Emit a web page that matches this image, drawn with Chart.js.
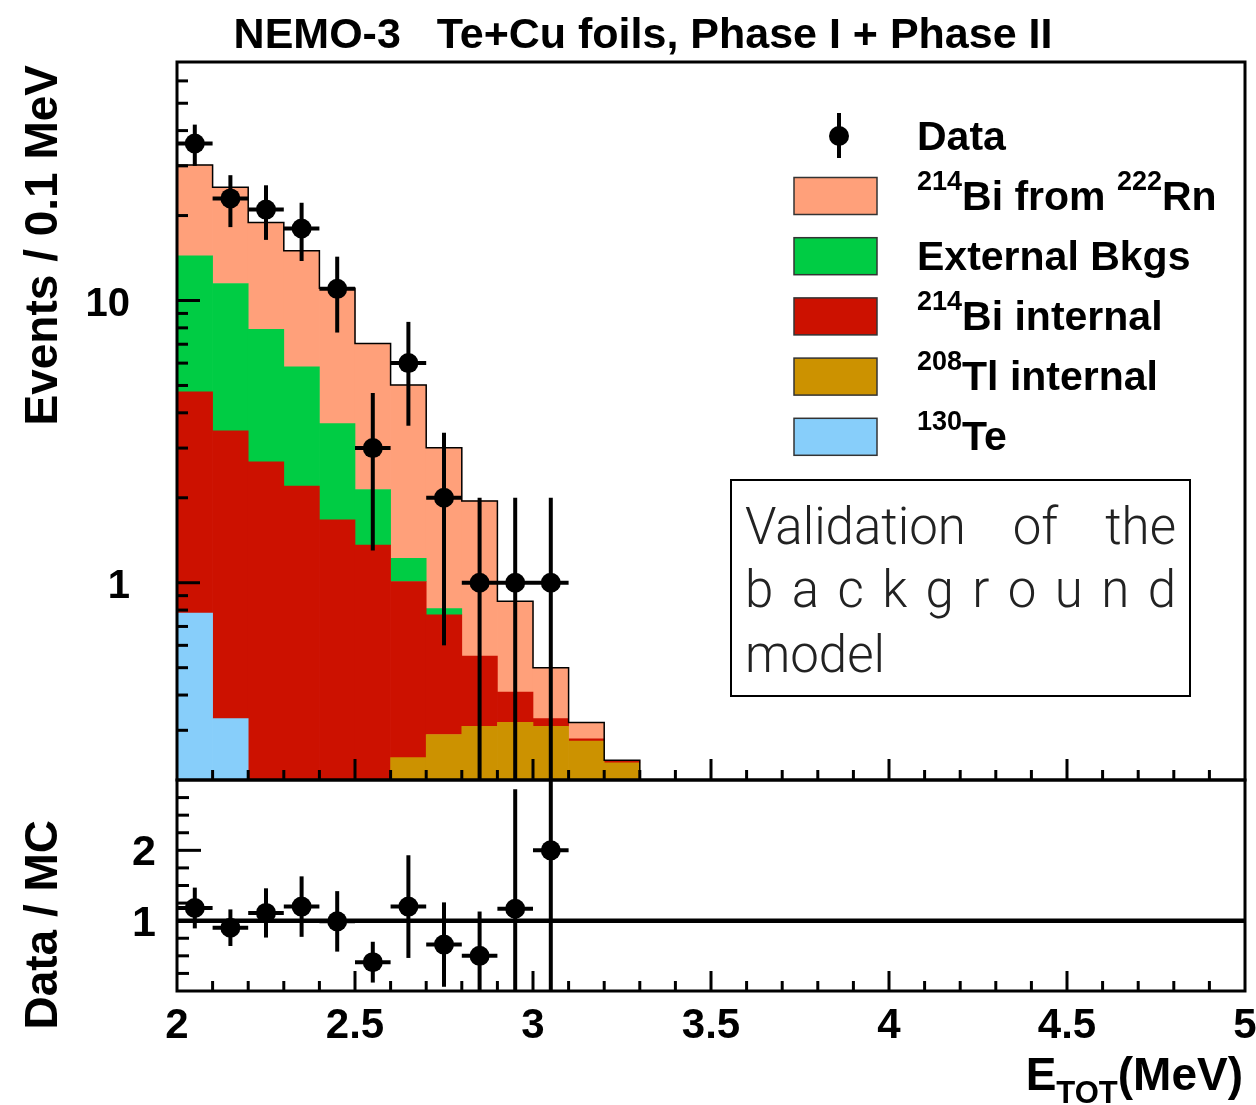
<!DOCTYPE html>
<html>
<head>
<meta charset="utf-8">
<title>NEMO-3 Te+Cu foils</title>
<script src="https://cdn.jsdelivr.net/npm/chart.js@4.4.1/dist/chart.umd.min.js"></script>
<style>
  html, body { margin: 0; padding: 0; background: #fff; overflow: hidden; }
  #wrap { position: relative; width: 1256px; height: 1105px; background: #fff; }
  canvas { position: absolute; left: 0; }
  #spectrum { top: 0; }
  #ratio { top: 700px; }
</style>
</head>
<body>
<div id="wrap">
  <canvas id="spectrum" width="1256" height="790"></canvas>
  <canvas id="ratio" width="1256" height="405"></canvas>
</div>
<script>
// ---- Histogram binning (MeV) ----
const binCenters = [2.05, 2.15, 2.25, 2.35, 2.45, 2.55, 2.65, 2.75, 2.85, 2.95, 3.05, 3.15, 3.25];
const binWidth = 0.1;

// ---- Background model, events / 0.1 MeV per component ----
const te130   = [0.78, 0.33, 0.12, 0.05, 0.02, 0.01, 0, 0, 0, 0, 0, 0, 0];
const tl208   = [0, 0, 0.01, 0.03, 0.07, 0.15, 0.24, 0.29, 0.31, 0.32, 0.31, 0.275, 0.23];
const bi214In = [3.97, 3.12, 2.55, 2.12, 1.58, 1.20, 0.77, 0.48, 0.24, 0.09, 0.02, 0.005, 0.005];
const extBkg  = [9.65, 8.04, 5.23, 3.62, 1.99, 0.78, 0.21, 0.04, 0, 0, 0, 0, 0];
const bi214Rn = [15.8, 13.7, 11.0, 9.2, 7.4, 4.9, 3.8, 2.2, 1.4, 0.45, 0.17, 0.04, 0];

// ---- Observed events ----
const dataCenters = [2.05, 2.15, 2.25, 2.35, 2.45, 2.55, 2.65, 2.75, 2.85, 2.95, 3.05];
const dataCounts  = [36, 23, 21, 18, 11, 3, 6, 2, 1, 1, 1];
const dataErrors  = [6.0, 4.8, 4.6, 4.2, 3.3, 1.7, 2.4, 1.4, 1.0, 1.0, 1.0];

// ---- Data / MC ----
const ratioValues = [1.18, 0.90, 1.11, 1.20, 0.99, 0.41, 1.20, 0.66, 0.50, 1.17, 2.00];
const ratioErrors = [0.29, 0.26, 0.35, 0.43, 0.43, 0.29, 0.73, 0.60, 0.63, 1.70, 2.00];

// ---- Axes ----
const xRange = [2, 5];
const yRange = [0.2, 70];
const ratioRange = [0, 3];
const xTickValues = [2, 2.5, 3, 3.5, 4, 4.5, 5];
const yTickValues = [1, 10];
const ratioTickValues = [1, 2];

// ---- Styling ----
const FONT = '"Liberation Sans", Arial, Helvetica, sans-serif';
const LIGHT_FONT = 'Roboto, "Liberation Sans", Arial, sans-serif';

// Stack order: bottom to top
const components = [
  { values: te130,   color: '#87cefa', label: [['130', true], ['Te', false]] },
  { values: tl208,   color: '#cc9200', label: [['208', true], ['Tl internal', false]] },
  { values: bi214In, color: '#cc1100', label: [['214', true], ['Bi internal', false]] },
  { values: extBkg,  color: '#00cc44', label: [['External Bkgs', false]] },
  { values: bi214Rn, color: '#ffa07a', label: [['214', true], ['Bi from ', false], ['222', true], ['Rn', false]] }
];

// Total model for the outline of the stack
const totals = binCenters.map((_, i) => components.reduce((s, c) => s + c.values[i], 0));
const outline = binCenters.map((c, i) => ({ x: c - binWidth / 2, y: totals[i] }));
const last = binCenters.length - 1;
outline.push({ x: binCenters[last] + binWidth / 2, y: totals[last] });
outline.push({ x: binCenters[last] + binWidth / 2, y: yRange[0] });

function seg(ctx, x1, y1, x2, y2) {
  ctx.beginPath(); ctx.moveTo(x1, y1); ctx.lineTo(x2, y2); ctx.stroke();
}

function clipTo(ctx, a) {
  ctx.beginPath(); ctx.rect(a.left, a.top, a.right - a.left, a.bottom - a.top); ctx.clip();
}

// Keep label overhang from shrinking the plotting frame
function noScalePadding(s) {
  s.paddingTop = 0; s.paddingBottom = 0; s.paddingLeft = 0; s.paddingRight = 0;
}

// Bottom-axis ticks pointing into the frame
function drawXTicks(ctx, xs, a, majorLen, minorLen) {
  for (let i = 1; i < 30; i++) {
    const v = xRange[0] + i * 0.1;
    const px = xs.getPixelForValue(v);
    const len = (i % 5 === 0) ? majorLen : minorLen;
    seg(ctx, px, a.bottom, px, a.bottom - len);
  }
}

function drawErrorBars(ctx, xs, ys, a, centers, values, errors, lowFloor) {
  ctx.save();
  clipTo(ctx, a);
  ctx.strokeStyle = '#000';
  ctx.lineWidth = 4;
  centers.forEach((c, i) => {
    const px = xs.getPixelForValue(c);
    const py = ys.getPixelForValue(values[i]);
    const hi = ys.getPixelForValue(values[i] + errors[i]);
    const lowV = values[i] - errors[i];
    const lo = lowV > lowFloor ? ys.getPixelForValue(lowV) : a.bottom + 6;
    seg(ctx, px, hi, px, lo);
    seg(ctx, xs.getPixelForValue(c - binWidth / 2), py, xs.getPixelForValue(c + binWidth / 2), py);
  });
  ctx.restore();
}

function drawSupText(ctx, parts, x, baseline, size, supSize, rise) {
  ctx.textAlign = 'left';
  ctx.textBaseline = 'alphabetic';
  for (const [txt, sup] of parts) {
    ctx.font = 'bold ' + (sup ? supSize : size) + 'px ' + FONT;
    ctx.fillText(txt, x, sup ? baseline - rise : baseline);
    x += ctx.measureText(txt).width;
  }
}

function justify(ctx, units, left, right, baseline) {
  const widths = units.map(u => ctx.measureText(u).width);
  const gap = (right - left - widths.reduce((s, w) => s + w, 0)) / (units.length - 1);
  let x = left;
  units.forEach((u, i) => { ctx.fillText(u, x, baseline); x += widths[i] + gap; });
}

const spectrumDecor = {
  id: 'spectrumDecor',
  afterDatasetsDraw(chart) {
    const { ctx, chartArea: a } = chart;
    const xs = chart.scales.x, ys = chart.scales.y;
    drawErrorBars(ctx, xs, ys, a, dataCenters, dataCounts, dataErrors, 0);

    ctx.save();
    ctx.strokeStyle = '#000';
    ctx.lineWidth = 3;
    // logarithmic y ticks
    for (const d of [0.1, 1, 10]) {
      for (let k = 1; k <= 9; k++) {
        const v = k * d;
        if (v <= yRange[0] * 1.001 || v >= yRange[1] * 0.999) continue;
        const py = ys.getPixelForValue(v);
        seg(ctx, a.left, py, a.left + (k === 1 ? 23 : 11), py);
      }
    }
    drawXTicks(ctx, xs, a, 21, 10);
    ctx.strokeRect(a.left, a.top, a.right - a.left, a.bottom - a.top);
    ctx.restore();
  },
  afterDraw(chart) {
    const { ctx } = chart;
    ctx.save();
    ctx.fillStyle = '#000';
    // title
    ctx.font = 'bold 43px ' + FONT;
    ctx.textAlign = 'center';
    ctx.textBaseline = 'alphabetic';
    ctx.fillText('NEMO-3   Te+Cu foils, Phase I + Phase II', 643, 48);

    // y title
    ctx.save();
    ctx.translate(57, 65);
    ctx.rotate(-Math.PI / 2);
    ctx.font = 'bold 46px ' + FONT;
    ctx.textAlign = 'right';
    ctx.fillText('Events / 0.1 MeV', 0, 0);
    ctx.restore();

    // legend
    ctx.strokeStyle = '#000';
    ctx.lineWidth = 4;
    seg(ctx, 839, 113, 839, 158);
    ctx.beginPath(); ctx.arc(839, 136, 10, 0, Math.PI * 2); ctx.fill();
    drawSupText(ctx, [['Data', false]], 917, 150, 41, 27, 20);
    const rows = components.slice().reverse();
    rows.forEach((c, i) => {
      const top = 177.5 + i * 60.2;
      ctx.fillStyle = c.color;
      ctx.fillRect(794, top, 83, 37);
      ctx.strokeStyle = '#333';
      ctx.lineWidth = 1.5;
      ctx.strokeRect(794, top, 83, 37);
      ctx.fillStyle = '#000';
      drawSupText(ctx, c.label, 917, top + 32, 41, 27, 20);
    });

    // annotation box
    ctx.strokeStyle = '#000';
    ctx.lineWidth = 2;
    ctx.strokeRect(731, 480, 459, 216);
    ctx.fillStyle = '#222';
    ctx.font = '300 51px ' + LIGHT_FONT;
    ctx.textAlign = 'left';
    justify(ctx, ['Validation', 'of', 'the'], 745, 1176, 544);
    justify(ctx, 'background'.split(''), 745, 1176, 607);
    ctx.fillText('model', 745, 672);
    ctx.restore();
  }
};

const ratioDecor = {
  id: 'ratioDecor',
  afterDatasetsDraw(chart) {
    const { ctx, chartArea: a } = chart;
    const xs = chart.scales.x, ys = chart.scales.y;
    drawErrorBars(ctx, xs, ys, a, dataCenters, ratioValues, ratioErrors, -1);
    ctx.save();
    ctx.strokeStyle = '#000';
    ctx.lineWidth = 3;
    for (let i = 1; i < 12; i++) {
      const v = i * 0.25;
      const py = ys.getPixelForValue(v);
      seg(ctx, a.left, py, a.left + (i % 4 === 0 ? 24 : 12), py);
    }
    drawXTicks(ctx, xs, a, 20, 10);
    ctx.strokeRect(a.left, a.top, a.right - a.left, a.bottom - a.top);
    ctx.restore();
  },
  afterDraw(chart) {
    const { ctx } = chart;
    ctx.save();
    ctx.fillStyle = '#000';
    ctx.save();
    ctx.translate(57, 120);
    ctx.rotate(-Math.PI / 2);
    ctx.font = 'bold 46px ' + FONT;
    ctx.textAlign = 'right';
    ctx.textBaseline = 'alphabetic';
    ctx.fillText('Data / MC', 0, 0);
    ctx.restore();

    // x title: E_TOT (MeV), right aligned
    const parts = [['E', 46, 0], ['TOT', 31, -13], ['(MeV)', 46, 0]];
    let w = 0;
    for (const [t, s] of parts) { ctx.font = 'bold ' + s + 'px ' + FONT; w += ctx.measureText(t).width; }
    let x = 1243 - w;
    ctx.textAlign = 'left';
    ctx.textBaseline = 'alphabetic';
    for (const [t, s, dy] of parts) {
      ctx.font = 'bold ' + s + 'px ' + FONT;
      ctx.fillText(t, x, 390 - dy);
      x += ctx.measureText(t).width;
    }
    ctx.restore();
  }
};

const tickFont = size => ({ family: FONT, size: size, weight: 'bold' });

// ---- Upper panel: stacked spectrum ----
new Chart(document.getElementById('spectrum'), {
  type: 'bar',
  data: {
    datasets: [
      {
        type: 'scatter', label: 'Data', stack: 'data', order: 1,
        data: dataCenters.map((x, i) => ({ x, y: dataCounts[i] })),
        pointRadius: 10, pointHoverRadius: 10, pointBackgroundColor: '#000', pointBorderWidth: 0
      },
      {
        type: 'line', label: 'Total', stack: 'total', order: 2,
        data: outline, stepped: 'before', borderColor: '#000', borderWidth: 1.5,
        pointRadius: 0, fill: false
      },
      ...components.map(c => ({
        type: 'bar', order: 3,
        data: binCenters.map((x, i) => ({ x, y: c.values[i] > 0 ? c.values[i] : null })),
        backgroundColor: c.color, borderWidth: 0,
        barPercentage: 1, categoryPercentage: 1, clip: 0
      }))
    ]
  },
  options: {
    responsive: false, animation: false, devicePixelRatio: 1, events: [],
    layout: { padding: { left: 0, right: 11, top: 62, bottom: 10 }, autoPadding: false },
    plugins: { legend: { display: false }, tooltip: { enabled: false }, title: { display: false } },
    scales: {
      x: {
        type: 'linear', min: xRange[0], max: xRange[1], offset: false, stacked: true, display: false,
        afterBuildTicks: s => { s.ticks = xTickValues.map(v => ({ value: v })); }
      },
      y: {
        type: 'logarithmic', min: yRange[0], max: yRange[1], stacked: true,
        grid: { display: false, drawTicks: false }, border: { display: false },
        ticks: { padding: 47, labelOffset: 4, color: '#000', font: tickFont(40), autoSkip: false, callback: v => String(v) },
        afterBuildTicks: s => { s.ticks = yTickValues.map(v => ({ value: v })); },
        afterFit: s => { s.width = 177; noScalePadding(s); }
      }
    }
  },
  plugins: [spectrumDecor]
});

// ---- Lower panel: Data / MC ----
new Chart(document.getElementById('ratio'), {
  type: 'scatter',
  data: {
    datasets: [
      {
        label: 'Data / MC', order: 1,
        data: dataCenters.map((x, i) => ({ x, y: ratioValues[i] })),
        pointRadius: 10, pointHoverRadius: 10, pointBackgroundColor: '#000', pointBorderWidth: 0
      },
      {
        type: 'line', label: 'Unity', order: 2,
        data: [{ x: xRange[0], y: 1 }, { x: xRange[1], y: 1 }],
        borderColor: '#000', borderWidth: 4.5, pointRadius: 0, fill: false
      }
    ]
  },
  options: {
    responsive: false, animation: false, devicePixelRatio: 1, events: [],
    layout: { padding: { left: 0, right: 11, top: 80, bottom: 0 }, autoPadding: false },
    plugins: { legend: { display: false }, tooltip: { enabled: false } },
    scales: {
      x: {
        type: 'linear', min: xRange[0], max: xRange[1],
        grid: { display: false, drawTicks: false }, border: { display: false },
        ticks: { padding: 10, color: '#000', font: tickFont(42), autoSkip: false, maxRotation: 0, callback: v => String(v) },
        afterBuildTicks: s => { s.ticks = xTickValues.map(v => ({ value: v })); },
        afterFit: s => { s.height = 114; noScalePadding(s); }
      },
      y: {
        type: 'linear', min: ratioRange[0], max: ratioRange[1],
        grid: { display: false, drawTicks: false }, border: { display: false },
        ticks: { padding: 21, labelOffset: 3, color: '#000', font: tickFont(43), autoSkip: false, callback: v => String(v) },
        afterBuildTicks: s => { s.ticks = ratioTickValues.map(v => ({ value: v })); },
        afterFit: s => { s.width = 177; noScalePadding(s); }
      }
    }
  },
  plugins: [ratioDecor]
});
</script>
</body>
</html>
